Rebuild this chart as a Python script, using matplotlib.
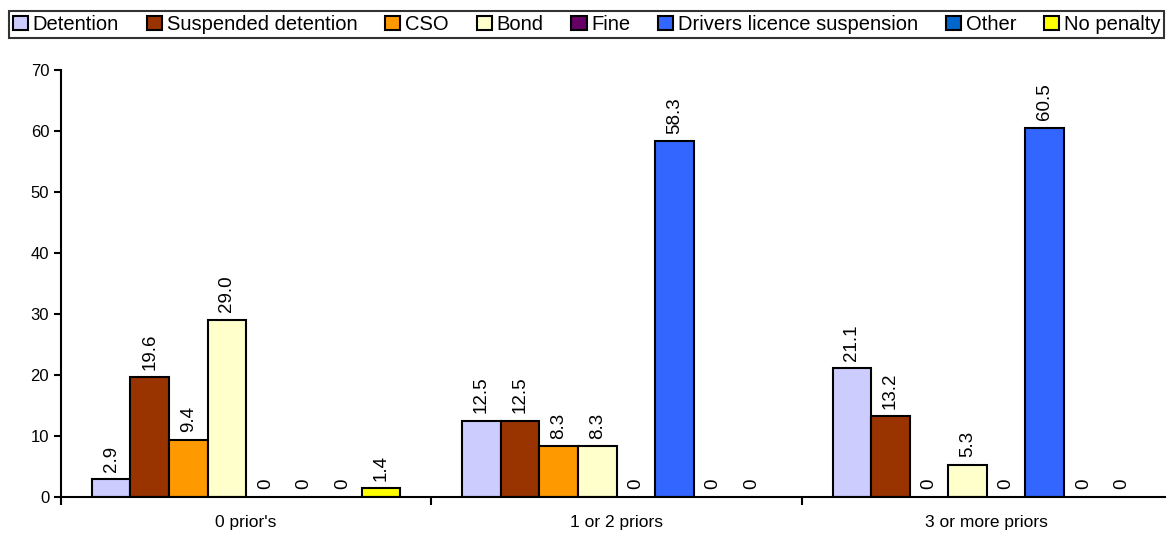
import numpy as np
import matplotlib
matplotlib.use("Agg")
import matplotlib.pyplot as plt
from matplotlib.patches import Patch

plt.rcParams['font.family'] = ['Liberation Sans', 'DejaVu Sans']

groups = ["0 prior's", "1 or 2 priors", "3 or more priors"]
series = ["Detention", "Suspended detention", "CSO", "Bond", "Fine",
          "Drivers licence suspension", "Other", "No penalty"]
colors = ["#CCCCFF", "#993300", "#FF9900", "#FFFFCC", "#660066",
          "#3366FF", "#0066CC", "#FFFF00"]
values = [
    [2.9, 12.5, 21.1],   # Detention
    [19.6, 12.5, 13.2],  # Suspended detention
    [9.4, 8.3, 0],       # CSO
    [29.0, 8.3, 5.3],    # Bond
    [0, 0, 0],           # Fine
    [0, 58.3, 60.5],     # Drivers licence suspension
    [0, 0, 0],           # Other
    [1.4, 0, 0],         # No penalty
]

fig = plt.figure(figsize=(11.66, 5.39), dpi=100)
ax = fig.add_axes([61/1166, 42/539, 1111/1166, 427/539])

n = len(series)
w = 1 / (n + 1.6)
x = np.arange(len(groups))
for i, (name, col, vals) in enumerate(zip(series, colors, values)):
    pos = x - 0.5 + 0.8 * w + (i + 0.5) * w
    edges = ['black' if v > 0 else 'none' for v in vals]
    ax.bar(pos, vals, width=w, color=col, edgecolor=edges, linewidth=1.5, label=name)
    for p, v in zip(pos, vals):
        txt = "0" if v == 0 else f"{v:.1f}"
        ax.annotate(txt, (p, v), xytext=(0, 5.5), textcoords='offset points',
                    rotation=90, ha='center', va='bottom', fontsize=13.5)

ax.set_xlim(-0.5, 2.5)
ax.set_ylim(0, 70)
ax.set_yticks(range(0, 71, 10))
ax.set_xticks([-0.5, 0.5, 1.5, 2.5])
ax.set_xticklabels([])
ax.set_xticks(x, minor=True)
ax.set_xticklabels(groups, minor=True)
ax.tick_params(axis='x', which='minor', length=0, pad=13, labelsize=12.5)
ax.tick_params(axis='x', which='major', length=6, width=1.5, direction='out')
ax.tick_params(axis='y', length=5, width=1.5, labelsize=12)
for s in ['top', 'right']:
    ax.spines[s].set_visible(False)
for s in ['left', 'bottom']:
    ax.spines[s].set_linewidth(1.5)

handles = [Patch(facecolor=c, edgecolor='black', linewidth=1.5, label=s)
           for s, c in zip(series, colors)]
leg = fig.legend(handles=handles, loc='upper left', bbox_to_anchor=(9/1166, 1 - 11/539),
                 ncol=n, fontsize=14.5, frameon=True, fancybox=False, edgecolor='black',
                 handlelength=0.75, handleheight=0.75, handletextpad=0.22, columnspacing=1.4,
                 borderpad=0.2, borderaxespad=0)
leg.get_frame().set_linewidth(1.5)

fig.savefig("out.png", dpi=100)
